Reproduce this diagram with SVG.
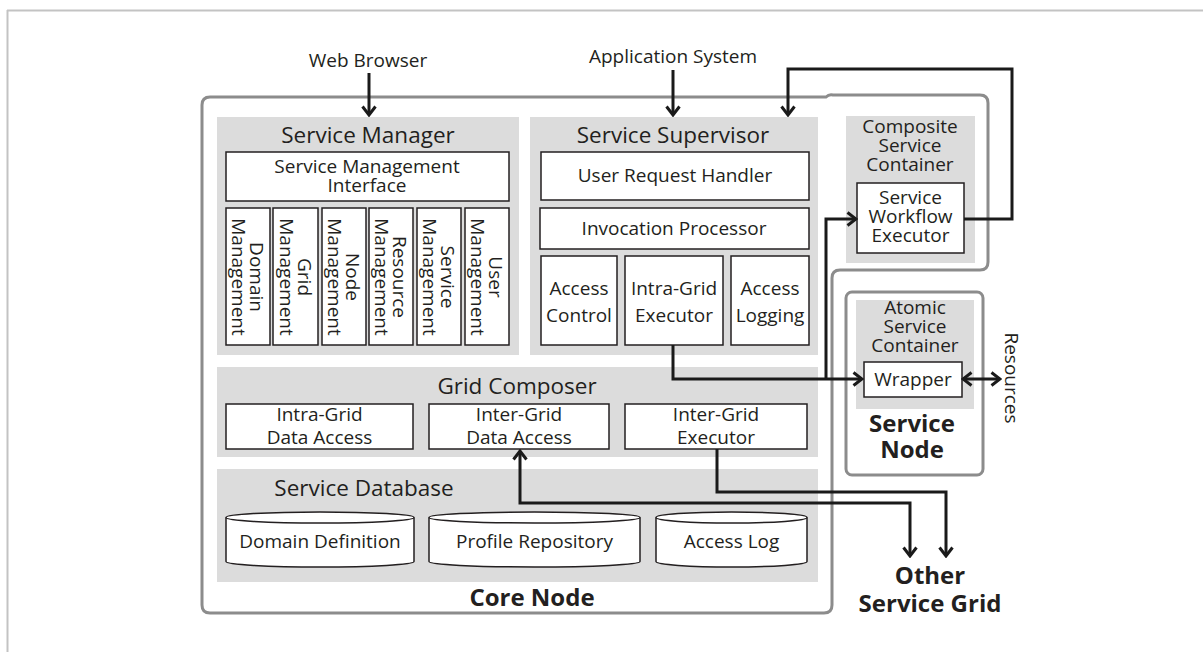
<svg xmlns="http://www.w3.org/2000/svg" width="1203" height="652" viewBox="0 0 1203 652">
<style>
text{font-family:"Open Sans","Noto Sans","Liberation Sans",sans-serif;fill:#231f20}
.t{font-size:19px;text-anchor:middle}
.h{font-size:22.5px;text-anchor:middle}
.b{font-size:24px;font-weight:bold;text-anchor:middle}
.g{fill:#dcdcdc}
.box{fill:#fff;stroke:#231f20;stroke-width:1.5}
.frame{fill:none;stroke:#8c8c8c;stroke-width:3}
.c{fill:none;stroke:#1a1a1a;stroke-width:3;stroke-linejoin:miter}
</style>
<defs>
<marker id="ah" viewBox="0 0 12 16" refX="10" refY="8" markerWidth="12" markerHeight="16" markerUnits="userSpaceOnUse" orient="auto-start-reverse">
<path d="M1.5,1.5 L10,8 L1.5,14.5" fill="none" stroke="#1a1a1a" stroke-width="3"/>
</marker>
</defs>
<g id="page-frame">
<line x1="7" y1="10.5" x2="1203" y2="10.5" stroke="#c3c3c3" stroke-width="2"/>
<line x1="7.5" y1="10" x2="7.5" y2="652" stroke="#c3c3c3" stroke-width="2"/>
</g>
<g id="core-node">
<path class="frame" d="M210,97 L826,97 Q829,94 833,95 L980,95 Q988,95 988,103 L988,262 Q988,270 980,270 L840,270 Q832,270 832,278 L832,605 Q832,613 824,613 L210,613 Q202,613 202,605 L202,105 Q202,97 210,97 Z"/>
<text class="b" x="532" y="606">Core Node</text>
</g>
<g id="service-manager">
<rect class="g" x="217" y="117" width="302" height="238"/>
<text class="h" x="368" y="143">Service Manager</text>
<rect class="box" x="226" y="152" width="283" height="49"/>
<text class="t" x="367" y="173">Service Management</text>
<text class="t" x="367" y="192">Interface</text>
<rect class="box" x="226" y="208" width="44" height="137"/>
<rect class="box" x="273" y="208" width="45" height="137"/>
<rect class="box" x="322" y="208" width="44" height="137"/>
<rect class="box" x="369" y="208" width="44" height="137"/>
<rect class="box" x="417" y="208" width="44" height="137"/>
<rect class="box" x="465" y="208" width="44" height="137"/>
<text class="t" transform="translate(248,277) rotate(90)"><tspan x="0" y="-2">Domain</tspan><tspan x="0" y="16">Management</tspan></text>
<text class="t" transform="translate(295.5,277) rotate(90)"><tspan x="0" y="-2">Grid</tspan><tspan x="0" y="16">Management</tspan></text>
<text class="t" transform="translate(344,277) rotate(90)"><tspan x="0" y="-2">Node</tspan><tspan x="0" y="16">Management</tspan></text>
<text class="t" transform="translate(391,277) rotate(90)"><tspan x="0" y="-2">Resource</tspan><tspan x="0" y="16">Management</tspan></text>
<text class="t" transform="translate(439,277) rotate(90)"><tspan x="0" y="-2">Service</tspan><tspan x="0" y="16">Management</tspan></text>
<text class="t" transform="translate(487,277) rotate(90)"><tspan x="0" y="-2">User</tspan><tspan x="0" y="16">Management</tspan></text>
</g>
<g id="service-supervisor">
<rect class="g" x="530" y="117" width="288" height="238"/>
<text class="h" x="673" y="143">Service Supervisor</text>
<rect class="box" x="541" y="152" width="268" height="48"/>
<text class="t" x="675" y="182">User Request Handler</text>
<rect class="box" x="540" y="208" width="269" height="41"/>
<text class="t" x="674" y="235">Invocation Processor</text>
<rect class="box" x="541" y="256" width="76" height="89"/>
<text class="t" x="579" y="295">Access</text>
<text class="t" x="579" y="322">Control</text>
<rect class="box" x="625" y="256" width="98" height="89"/>
<text class="t" x="674" y="295">Intra-Grid</text>
<text class="t" x="674" y="322">Executor</text>
<rect class="box" x="731" y="256" width="78" height="89"/>
<text class="t" x="770" y="295">Access</text>
<text class="t" x="770" y="322">Logging</text>
</g>
<g id="grid-composer">
<rect class="g" x="217" y="367" width="601" height="90"/>
<text class="h" x="517" y="394">Grid Composer</text>
<rect class="box" x="226" y="404" width="187" height="45"/>
<text class="t" x="319.5" y="421">Intra-Grid</text>
<text class="t" x="319.5" y="444">Data Access</text>
<rect class="box" x="429" y="404" width="180" height="45"/>
<text class="t" x="519" y="421">Inter-Grid</text>
<text class="t" x="519" y="444">Data Access</text>
<rect class="box" x="625" y="404" width="182" height="45"/>
<text class="t" x="716" y="421">Inter-Grid</text>
<text class="t" x="716" y="444">Executor</text>
</g>
<g id="service-database">
<rect class="g" x="217" y="469" width="601" height="113"/>
<text class="h" x="364" y="496">Service Database</text>
<path class="box" d="M226,517.5 L226,561.5 A94,5.5 0 0 0 414,561.5 L414,517.5"/>
<ellipse class="box" cx="320" cy="517.5" rx="94" ry="5.5"/>
<text class="t" x="320" y="548">Domain Definition</text>
<path class="box" d="M429,517.5 L429,561.5 A105.5,5.5 0 0 0 640,561.5 L640,517.5"/>
<ellipse class="box" cx="534.5" cy="517.5" rx="105.5" ry="5.5"/>
<text class="t" x="534.5" y="548">Profile Repository</text>
<path class="box" d="M656,517.5 L656,561.5 A75.5,5.5 0 0 0 807,561.5 L807,517.5"/>
<ellipse class="box" cx="731.5" cy="517.5" rx="75.5" ry="5.5"/>
<text class="t" x="731.5" y="548">Access Log</text>
</g>
<g id="composite-service-container">
<rect class="g" x="846" y="116" width="129" height="147"/>
<text class="t" x="910" y="133">Composite</text>
<text class="t" x="910" y="152">Service</text>
<text class="t" x="910" y="171">Container</text>
<rect class="box" x="857" y="183" width="107" height="70"/>
<text class="t" x="910.5" y="204">Service</text>
<text class="t" x="910.5" y="223">Workflow</text>
<text class="t" x="910.5" y="242">Executor</text>
</g>
<g id="service-node">
<rect x="846" y="292" width="137" height="183" rx="6" class="frame"/>
<rect class="g" x="856" y="300" width="118" height="109"/>
<text class="t" x="915" y="314">Atomic</text>
<text class="t" x="915" y="333">Service</text>
<text class="t" x="915" y="352">Container</text>
<rect class="box" x="864" y="362" width="98" height="35"/>
<text class="t" x="913" y="386">Wrapper</text>
<text class="b" x="912" y="432">Service</text>
<text class="b" x="912" y="458">Node</text>
</g>
<g id="labels">
<text class="t" x="368" y="67">Web Browser</text>
<text class="t" x="673" y="63">Application System</text>
<text class="t" text-anchor="middle" transform="translate(1005,378) rotate(90)" x="0" y="0">Resources</text>
<text class="b" x="930" y="584" font-size="25">Other</text>
<text class="b" x="930" y="612" font-size="25">Service Grid</text>
</g>
<g id="connectors">
<path class="c" d="M369,73 L369,115" marker-end="url(#ah)"/>
<path class="c" d="M673,70 L673,115" marker-end="url(#ah)"/>
<path class="c" d="M964,219 L1012,219 L1012,69 L788,69 L788,115" marker-end="url(#ah)"/>
<path class="c" d="M673,345 L673,379 L862,379" marker-end="url(#ah)"/>
<path class="c" d="M826,379 L826,219 L856,219" marker-end="url(#ah)"/>
<path class="c" d="M963,379 L1000,379" marker-start="url(#ah)" marker-end="url(#ah)"/>
<path class="c" d="M717,449 L717,492 L946,492 L946,556" marker-end="url(#ah)"/>
<path class="c" d="M910,556 L910,503 L520,503 L520,451" marker-start="url(#ah)" marker-end="url(#ah)"/>
</g>
</svg>
